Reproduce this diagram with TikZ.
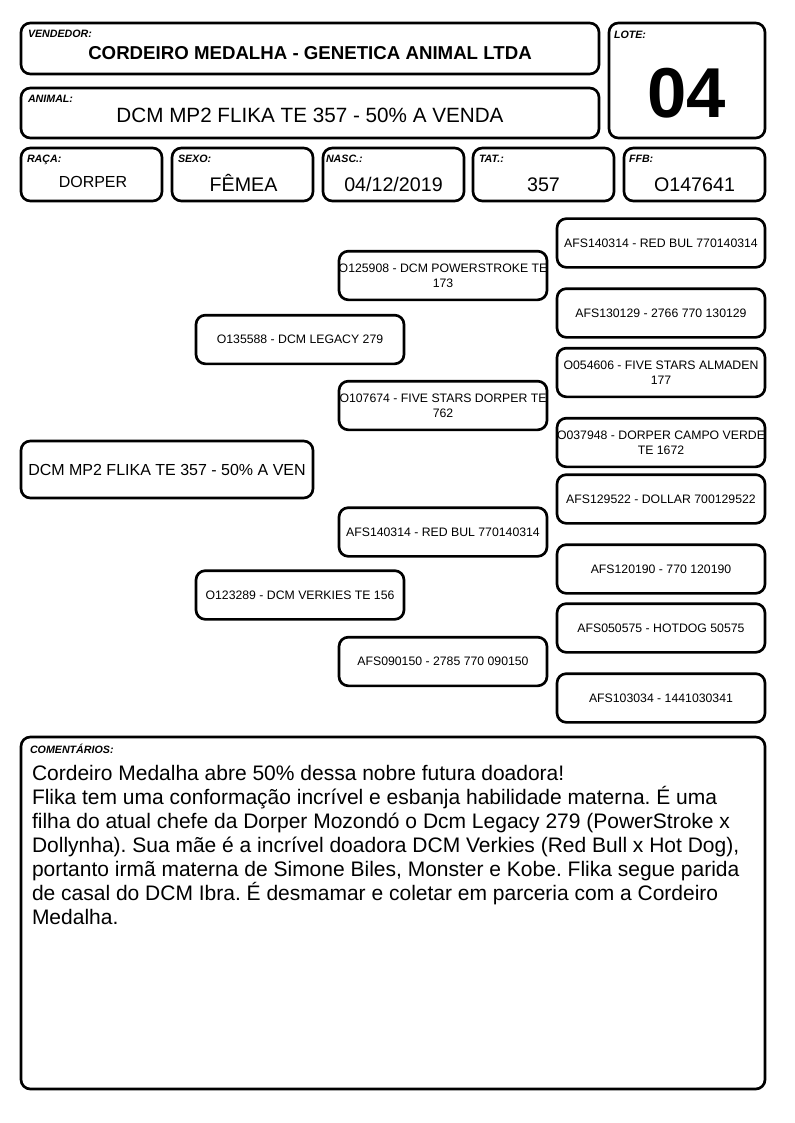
\documentclass[tikz,border=0pt]{standalone}
\usepackage{fontspec}
\setmainfont{Liberation Sans}
\frenchspacing
\newcommand{\pedline}[1]{\makebox[150pt]{#1}}
\begin{document}
\begin{tikzpicture}[x=0.75pt, y=-0.75pt,
        cardbox/.style={outer sep=0, inner sep=0, draw, line width=2pt, rounded corners=7pt, anchor=north west},
        cardlbl/.style={outer sep=0, inner sep=0, anchor=north west, font=\fontsize{8}{9}\selectfont\bfseries\itshape},
        cardval/.style={outer sep=0, inner sep=0, anchor=base, font=\fontsize{14.75}{17}\selectfont},
        pedbox/.style={outer sep=0, inner sep=0, draw, line width=2pt, rounded corners=7pt, minimum width=156pt, minimum height=36.5pt, align=center, font=\fontsize{9.2}{11.25}\selectfont}]
        \useasboundingbox (0,0) rectangle (794,1123);
        % header
        \draw (21,23) node[cardbox, minimum width=433.5pt, minimum height=38.25pt] (vend) {};
        \draw (vend.north west) ++(7,7) node[cardlbl] (vendlbl) {VENDEDOR:};
        \draw (vend.center) ++(0,11.5) node[cardval, font=\fontsize{14}{16}\selectfont\bfseries] (vendval) {CORDEIRO MEDALHA - GENETICA ANIMAL LTDA};
        \draw (609,23) node[cardbox, minimum width=117pt, minimum height=86.25pt] (lote) {};
        \draw (lote.north west) ++(5,8) node[cardlbl] (lotelbl) {LOTE:};
        \draw (lote.center) ++(0,37.5) node[cardval, font=\fontsize{53}{60}\selectfont\bfseries] (loteval) {04};
        \draw (21,88) node[cardbox, minimum width=433.5pt, minimum height=37.5pt] (anim) {};
        \draw (anim.north west) ++(7,7) node[cardlbl] (animlbl) {ANIMAL:};
        \draw (anim.center) ++(0,10) node[cardval, font=\fontsize{15.5}{18}\selectfont] (animval) {DCM MP2 FLIKA TE 357 - 50\% A VENDA};
        % fields
        \draw (21,148) node[cardbox, minimum width=105.75pt, minimum height=39.75pt] (raca) {};
        \draw (raca.north west) ++(6,7) node[cardlbl] (racalbl) {RAÇA:};
        \draw (raca.center) ++(1.5,13.5) node[cardval, font=\fontsize{12}{14}\selectfont] (racaval) {DORPER};
        \draw (172,148) node[cardbox, minimum width=105.75pt, minimum height=39.75pt] (sexo) {};
        \draw (sexo.north west) ++(6,7) node[cardlbl] (sexolbl) {SEXO:};
        \draw (sexo.center) ++(1,17.5) node[cardval] (sexoval) {FÊMEA};
        \draw (323,148) node[cardbox, minimum width=105.75pt, minimum height=39.75pt] (nasc) {};
        \draw (nasc.north west) ++(3,7) node[cardlbl] (nasclbl) {NASC.:};
        \draw (nasc.center) ++(0,17.5) node[cardval] (nascval) {04/12/2019};
        \draw (473,148) node[cardbox, minimum width=105.75pt, minimum height=39.75pt] (tat) {};
        \draw (tat.north west) ++(6,7) node[cardlbl] (tatlbl) {TAT.:};
        \draw (tat.center) ++(0,17.5) node[cardval] (tatval) {357};
        \draw (624,148) node[cardbox, minimum width=105.75pt, minimum height=39.75pt] (ffb) {};
        \draw (ffb.north west) ++(5,7) node[cardlbl] (ffblbl) {FFB:};
        \draw (ffb.center) ++(0,17.5) node[cardval] (ffbval) {O147641};
        % pedigree
        \draw (167,469.5) node[pedbox, minimum width=219pt, minimum height=42.75pt, font=\fontsize{12}{14}\selectfont] (flika) {DCM MP2 FLIKA TE 357 - 50\% A VEN};
        \draw (300,339.5) node[pedbox] (pai) {O135588 - DCM LEGACY 279};
        \draw (300,595) node[pedbox] (mae) {O123289 - DCM VERKIES TE 156};
        \draw (443,275.5) node[pedbox] (avopp) {\pedline{O125908 - DCM POWERSTROKE TE}\\173};
        \draw (443,405.5) node[pedbox] (avopm) {\pedline{O107674 - FIVE STARS DORPER TE}\\762};
        \draw (443,532) node[pedbox] (avomp) {\pedline{AFS140314 - RED BUL 770140314}};
        \draw (443,661.5) node[pedbox] (avomm) {AFS090150 - 2785 770 090150};
        \draw (661,243) node[pedbox] (bis1) {\pedline{AFS140314 - RED BUL 770140314}};
        \draw (661,313) node[pedbox] (bis2) {AFS130129 - 2766 770 130129};
        \draw (661,372.5) node[pedbox] (bis3) {\pedline{O054606 - FIVE STARS ALMADEN}\\177};
        \draw (661,442.5) node[pedbox] (bis4) {\pedline{O037948 - DORPER CAMPO VERDE}\\TE 1672};
        \draw (661,499) node[pedbox] (bis5) {\pedline{AFS129522 - DOLLAR 700129522}};
        \draw (661,569) node[pedbox] (bis6) {AFS120190 - 770 120190};
        \draw (661,628) node[pedbox] (bis7) {AFS050575 - HOTDOG 50575};
        \draw (661,698) node[pedbox] (bis8) {AFS103034 - 1441030341};
        % comments
        \draw (21,737) node[cardbox, minimum width=558pt, minimum height=264pt] (coment) {};
        \draw (coment.north west) ++(9,7) node[cardlbl] (comentlbl) {COMENTÁRIOS:};
        \draw (32,765) node[outer sep=0, inner sep=0, anchor=north west, align=left, font=\fontsize{15.75}{18}\selectfont] (comenttxt) {Cordeiro Medalha abre 50\% dessa nobre futura doadora!\\
Flika tem uma conformação incrível e esbanja habilidade materna. É uma\\
filha do atual chefe da Dorper Mozondó o Dcm Legacy 279 (PowerStroke x\\
Dollynha). Sua mãe é a incrível doadora DCM Verkies (Red Bull x Hot Dog),\\
portanto irmã materna de Simone Biles, Monster e Kobe. Flika segue parida\\
de casal do DCM Ibra. É desmamar e coletar em parceria com a Cordeiro\\
Medalha.};
      \end{tikzpicture}
\end{document}
